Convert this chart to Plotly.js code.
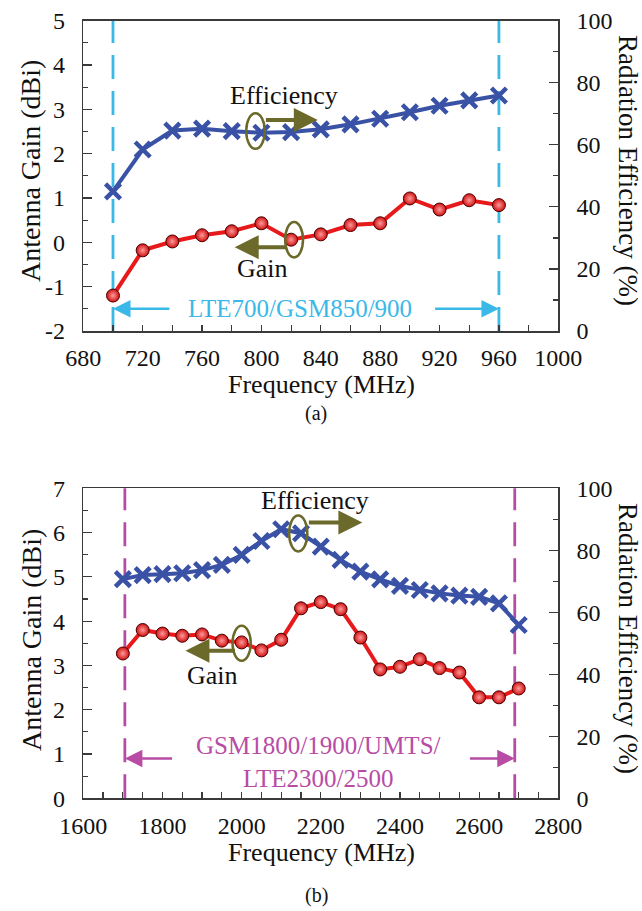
<!DOCTYPE html>
<html><head><meta charset="utf-8">
<script src="https://cdn.plot.ly/plotly-3.0.1.min.js"></script>
<style>html,body{margin:0;padding:0;background:#fff}#chart{width:642px;height:911px}</style>
</head><body><div id="chart"></div>
<script>
// ---- data (a) ----
const freqA = [700,720,740,760,780,800,820,840,860,880,900,920,940,960];
const gainA = [-1.20,-0.18,0.02,0.16,0.25,0.43,0.06,0.18,0.39,0.43,0.99,0.74,0.95,0.84];
const effA  = [45.0,58.5,64.6,65.2,64.4,63.9,64.1,65.0,66.6,68.4,70.5,72.6,74.3,75.9];
const bandA = [700,960];
const bandLabelA = 'LTE700/GSM850/900';
const gainTicksA = [-2,-1,0,1,2,3,4,5];
const gainTickTextA = ['-2','-1','0','1','2','3','4','5'];
// ---- data (b) ----
const freqB = [1700,1750,1800,1850,1900,1950,2000,2050,2100,2150,2200,2250,2300,2350,2400,2450,2500,2550,2600,2650,2700];
const gainB = [3.27,3.80,3.72,3.67,3.70,3.56,3.52,3.34,3.58,4.29,4.43,4.27,3.63,2.91,2.97,3.14,2.94,2.84,2.28,2.28,2.48];
const effB  = [70.7,72.0,72.3,72.6,73.6,75.3,78.5,83.0,86.8,85.5,81.2,76.9,73.1,70.6,68.5,67.2,66.1,65.4,65.0,62.9,55.9];
const bandB = [1705,2690];
const bandLabelB = 'GSM1800/1900/UMTS/<br>LTE2300/2500';
const gainTicksB = [0,1,2,3,4,5,6,7];
const gainTickTextB = ['0','1','2','3','4','5','6','7'];
const panelLabels = ['(a)','(b)'];
const xTitle = 'Frequency (MHz)';
const yTitleL = 'Antenna Gain (dBi)';
const yTitleR = 'Radiation Efficiency (%)';

const FONT = "'Liberation Serif', 'Times New Roman', serif";
const RED = '#e8191b', BLUE = '#3a52a6', OLIVE = '#6b6a2b', CYAN = '#3ab9e9', MAG = '#b84ca5';
const AX = '#3a3a3a';

function gainTrace(x, y, xa, ya) {
  return {x, y, xaxis: xa, yaxis: ya, type: 'scatter', mode: 'lines+markers',
    line: {color: RED, width: 4},
    marker: {symbol: 'circle', size: 13, color: '#d01010', gradient: {type: 'radial', color: '#ff9a9a'},
             line: {color: '#4a0000', width: 1}},
    showlegend: false, hoverinfo: 'x+y'};
}
function effTrace(x, y, xa, ya) {
  return {x, y, xaxis: xa, yaxis: ya, type: 'scatter', mode: 'lines+markers',
    line: {color: BLUE, width: 4},
    marker: {symbol: 'x-thin', size: 15, color: BLUE, line: {color: BLUE, width: 4.5}},
    showlegend: false, hoverinfo: 'x+y'};
}

const traces = [
  effTrace(freqA, effA, 'x', 'y2'),
  gainTrace(freqA, gainA, 'x', 'y'),
  effTrace(freqB, effB, 'x2', 'y4'),
  gainTrace(freqB, gainB, 'x2', 'y3')
];

const XD = [83.3/642, 558.3/642];
const YA = [1 - 331/911, 1 - 20.7/911];
const YB = [1 - 798.3/911, 1 - 488.3/911];

const tickFont = {family: FONT, size: 24, color: '#111'};

function xAxis(anchor, range, dtick, minor) {
  return {domain: XD, anchor, range, dtick, tick0: range[0], ticks: 'inside', ticklen: 6, tickwidth: 1.2, tickcolor: AX,
    minor: {dtick: minor, ticks: 'inside', ticklen: 6, tickwidth: 1.2, tickcolor: AX, showgrid: false},
    showline: true, linecolor: AX, linewidth: 1.5, mirror: true, showgrid: false, zeroline: false,
    tickfont: tickFont, ticklabelstandoff: 5, automargin: false};
}
function yAxisL(anchor, domain, range, tv, tt) {
  return {domain, anchor, range, tickmode: 'array', tickvals: tv, ticktext: tt,
    ticks: 'inside', ticklen: 9, tickwidth: 1.2, tickcolor: AX,
    minor: {dtick: 0.5, tick0: 0, ticks: 'inside', ticklen: 5, tickwidth: 1.2, tickcolor: AX, showgrid: false},
    showline: true, linecolor: AX, linewidth: 1.5, showgrid: false, zeroline: false,
    tickfont: tickFont, ticklabelstandoff: 12, automargin: false};
}
function yAxisR(anchor, over) {
  return {overlaying: over, side: 'right', anchor, range: [0, 100], dtick: 20, tick0: 0,
    ticks: 'inside', ticklen: 9, tickwidth: 1.2, tickcolor: AX,
    minor: {dtick: 10, tick0: 0, ticks: 'inside', ticklen: 5, tickwidth: 1.2, tickcolor: AX, showgrid: false},
    showline: true, linecolor: AX, linewidth: 1.5, showgrid: false, zeroline: false,
    tickfont: tickFont, ticklabelstandoff: 12, automargin: false};
}

function vline(x, xref, yref, color) {
  return {type: 'line', xref, yref: yref + ' domain', x0: x, x1: x, y0: 0, y1: 1,
    line: {color, width: 2.8, dash: '24px,12px'}, layer: 'below'};
}
function ellipse(xref, yref, xc, yc, w, h) {
  return {type: 'circle', xref, yref, x0: xc - w/2, x1: xc + w/2, y0: yc - h/2, y1: yc + h/2,
    line: {color: OLIVE, width: 2.5}, fillcolor: 'rgba(0,0,0,0)', layer: 'above'};
}
function arrow(xref, yref, xHead, xTail, y, color, w, size) {
  return {xref, yref, axref: xref, ayref: yref, x: xHead, y, ax: xTail, ay: y, text: '',
    showarrow: true, arrowhead: 2, arrowsize: size, arrowwidth: w, arrowcolor: color, standoff: 0, startstandoff: 0};
}
function label(xref, yref, x, y, text, color, size) {
  return {xref, yref, x, y, text, showarrow: false, font: {family: FONT, size, color}, xanchor: 'center', yanchor: 'middle'};
}
function paperText(xpx, ypx, text, size, angle) {
  return {xref: 'paper', yref: 'paper', x: xpx / 642, y: 1 - ypx / 911, text, textangle: angle || 0,
    showarrow: false, font: {family: FONT, size, color: '#111'}, xanchor: 'center', yanchor: 'middle'};
}

const shapes = [
  vline(bandA[0], 'x', 'y', CYAN), vline(bandA[1], 'x', 'y', CYAN),
  vline(bandB[0], 'x2', 'y3', MAG), vline(bandB[1], 'x2', 'y3', MAG),
  ellipse('x', 'y', 796, 2.51, 12.5, 0.8),
  ellipse('x', 'y', 822, 0.06, 12, 0.8),
  ellipse('x2', 'y3', 2143, 5.98, 46, 0.81),
  ellipse('x2', 'y3', 2000, 3.50, 46, 0.79)
];

const annotations = [
  // panel (a)
  label('x', 'y', 815, 3.32, 'Efficiency', '#111', 26),
  arrow('x', 'y', 838, 802, 2.76, OLIVE, 4, 1.2),
  label('x', 'y', 801, -0.58, 'Gain', '#111', 26),
  arrow('x', 'y', 782, 818, -0.11, OLIVE, 4, 1.2),
  label('x', 'y', 826, -1.5, bandLabelA, CYAN, 25),
  arrow('x', 'y', bandA[0], 739, -1.5, CYAN, 2.5, 1.4),
  arrow('x', 'y', bandA[1], 916, -1.5, CYAN, 2.5, 1.4),
  // panel (b)
  label('x2', 'y3', 2185, 6.72, 'Efficiency', '#111', 26),
  arrow('x2', 'y3', 2305, 2166, 6.23, OLIVE, 4, 1.2),
  label('x2', 'y3', 1926, 2.78, 'Gain', '#111', 26),
  arrow('x2', 'y3', 1858, 1987, 3.33, OLIVE, 4, 1.2),
  {xref: 'x2', yref: 'y3', x: 2194, y: 0.83, text: bandLabelB, showarrow: false,
   font: {family: FONT, size: 25, color: MAG}, align: 'center', xanchor: 'center', yanchor: 'middle'},
  arrow('x2', 'y3', bandB[0], 1828, 0.9, MAG, 2.5, 1.4),
  arrow('x2', 'y3', bandB[1], 2573, 0.9, MAG, 2.5, 1.4),
  // axis titles (left reads upward, right reads downward as in the reference)
  paperText(321, 384, xTitle, 26),
  paperText(321, 852, xTitle, 26),
  paperText(31, 171, yTitleL, 28, -90),
  paperText(31, 640, yTitleL, 28, -90),
  paperText(628, 170, yTitleR, 27, 90),
  paperText(628, 638, yTitleR, 27, 90),
  // panel labels
  paperText(316, 413, panelLabels[0], 20),
  paperText(316, 895, panelLabels[1], 20)
];

const layout = {
  width: 642, height: 911,
  margin: {l: 0, r: 0, t: 0, b: 0, pad: 0},
  paper_bgcolor: '#fff', plot_bgcolor: '#fff',
  showlegend: false,
  font: {family: FONT, color: '#111'},
  xaxis: xAxis('y', [680, 1000], 40, 20),
  yaxis: yAxisL('x', YA, [-2, 5], gainTicksA, gainTickTextA),
  yaxis2: yAxisR('x', 'y'),
  xaxis2: xAxis('y3', [1600, 2800], 200, 50),
  yaxis3: yAxisL('x2', YB, [0, 7], gainTicksB, gainTickTextB),
  yaxis4: yAxisR('x2', 'y3'),
  shapes, annotations
};

Plotly.newPlot('chart', traces, layout, {displayModeBar: false, staticPlot: true});
</script></body></html>
